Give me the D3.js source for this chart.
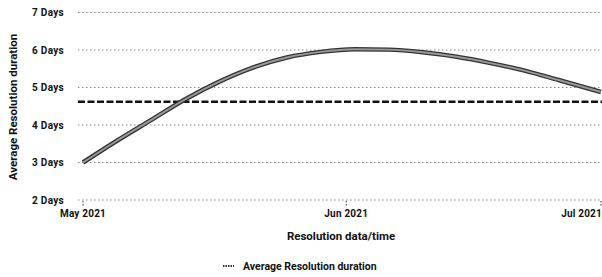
<!DOCTYPE html>
<html>
<head>
<meta charset="utf-8">
<script src="https://cdn.jsdelivr.net/npm/d3@7"></script>
<style>
  body { margin: 0; background: #fff; }
  svg { display: block; font-family: Roboto, "Liberation Sans", sans-serif; font-weight: bold; }
</style>
</head>
<body>
<svg id="chart" width="602" height="277"></svg>
<script>
// values
let dates = ['2021-05-01', '2021-05-05', '2021-05-09', '2021-05-13', '2021-05-17', '2021-05-21',
    '2021-05-25', '2021-05-29', '2021-06-02', '2021-06-06', '2021-06-10', '2021-06-14',
    '2021-06-18', '2021-06-22', '2021-06-26', '2021-07-01']
let durations = [3.00, 3.58, 4.13, 4.68, 5.15, 5.53, 5.80, 5.95, 6.02, 6.01, 5.94, 5.82,
    5.65, 5.45, 5.20, 4.88]
let average = 4.62
let yTicks = [2, 3, 4, 5, 6, 7]
let xTicks = ['2021-05-01', '2021-06-01', '2021-07-01']
let xTitle = 'Resolution data/time',
    yTitle = 'Average Resolution duration',
    legendLabel = 'Average Resolution duration'

let parse = d3.timeParse('%Y-%m-%d')
let data = dates.map((d, i) => ({ date: parse(d), value: durations[i] }))

let svg = d3.select('#chart'),
    left = 78, right = 602

let x = d3.scaleTime()
    .domain([parse(dates[0]), parse(dates[dates.length - 1])])
    .range([83, 601])
let y = d3.scaleLinear().domain([2, 7]).range([200, 12.5])

// gridlines
svg.append('g').selectAll('line')
    .data(yTicks)
    .join('line')
    .attr('x1', left).attr('x2', right)
    .attr('y1', d => y(d)).attr('y2', d => y(d))
    .attr('stroke', '#8a8a8a')
    .attr('stroke-width', 1)
    .attr('stroke-dasharray', '1.5,2.5')

// y axis labels
svg.append('g').selectAll('text')
    .data(yTicks)
    .join('text')
    .attr('x', 64).attr('y', d => y(d))
    .attr('dy', '0.35em')
    .attr('text-anchor', 'end')
    .attr('font-size', 10)
    .attr('letter-spacing', 0.3)
    .attr('fill', '#111')
    .text(d => d + ' Days')

// x axis ticks + labels
let xg = svg.append('g')
xg.selectAll('line')
    .data(xTicks)
    .join('line')
    .attr('x1', d => x(parse(d))).attr('x2', d => x(parse(d)))
    .attr('y1', 201).attr('y2', 207)
    .attr('stroke', '#333')
    .attr('stroke-dasharray', '1.5,1.5')
xg.selectAll('text')
    .data(xTicks)
    .join('text')
    .attr('x', (d, i) => i === xTicks.length - 1 ? 602 : x(parse(d)))
    .attr('y', 217)
    .attr('text-anchor', (d, i) => i === xTicks.length - 1 ? 'end' : 'middle')
    .attr('font-size', 10)
    .attr('letter-spacing', 0.2)
    .attr('fill', '#111')
    .text(d => d3.timeFormat('%b %Y')(parse(d)))

// axis titles
svg.append('text')
    .attr('x', 341).attr('y', 240)
    .attr('text-anchor', 'middle')
    .attr('font-size', 11.5)
    .attr('fill', '#111')
    .text(xTitle)
svg.append('text')
    .attr('transform', 'translate(17,107) rotate(-90)')
    .attr('text-anchor', 'middle')
    .attr('font-size', 11.5)
    .attr('fill', '#111')
    .text(yTitle)

// average line
svg.append('line')
    .attr('x1', left).attr('x2', right)
    .attr('y1', y(average)).attr('y2', y(average))
    .attr('stroke', '#111')
    .attr('stroke-width', 2.5)
    .attr('stroke-dasharray', '7,2.5')

// duration curve
let line = d3.line()
    .x(d => x(d.date))
    .y(d => y(d.value))
    .curve(d3.curveMonotoneX)
svg.append('path')
    .datum(data)
    .attr('d', line)
    .attr('fill', 'none')
    .attr('stroke', '#333')
    .attr('stroke-width', 4.5)
svg.append('path')
    .datum(data)
    .attr('d', line)
    .attr('fill', 'none')
    .attr('stroke', '#999')
    .attr('stroke-width', 2)

// legend
svg.append('line')
    .attr('x1', 223).attr('x2', 234)
    .attr('y1', 266).attr('y2', 266)
    .attr('stroke', '#333')
    .attr('stroke-width', 2)
    .attr('stroke-dasharray', '1.5,1')
svg.append('text')
    .attr('x', 243).attr('y', 270)
    .attr('font-size', 10.5)
    .attr('fill', '#111')
    .text(legendLabel)
</script>
</body>
</html>
